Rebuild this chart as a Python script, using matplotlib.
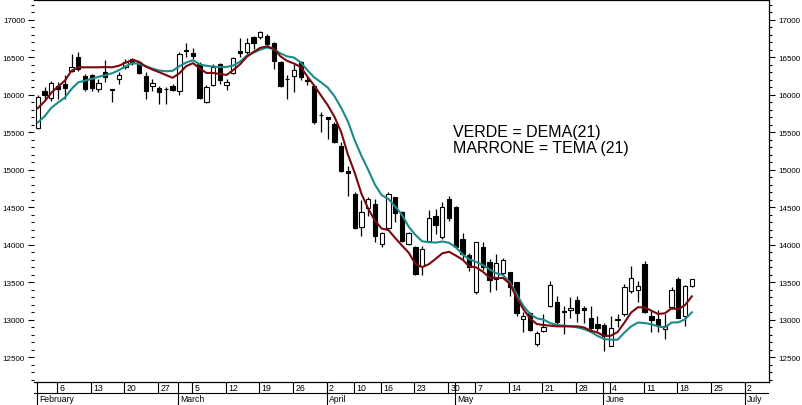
import matplotlib
matplotlib.use("Agg")
import matplotlib.pyplot as plt
import numpy as np

plt.rcParams['font.family'] = ['Liberation Sans', 'DejaVu Sans']

# daily candles, trading day index 0 = 1 Feb 2012
opens = [15555, 16045, 15960, 16110, 16145, 16310, 16500, 16245, 16265, 16075,
         16305, 16070, 16210, 16365, 16480, 16430, 16245, 16115, 16085, 16078,
         16110, 16045, 16580, 16555, 16410, 15900, 16130, 16410, 16130, 16290,
         16585, 16565, 16765, 16765, 16780, 16690, 16440, 16215, 16255, 16430,
         16195, 16112, 15735, 15700, 15610, 15310, 14985, 14675, 14230, 14485,
         14545, 14010, 14218, 14632, 14432, 14009, 13970, 13712, 14045, 14378,
         14098, 14609, 14507, 14076, 13865, 13365, 13973, 13773, 13542, 13622,
         13640, 13507, 13007, 13089, 12676, 12845, 13178, 13231, 13112, 13129,
         13262, 13156, 13018, 12942, 12929, 12645, 13000, 13076, 13387, 13400,
         13742, 13054, 13009, 12875, 13165, 13543, 13045, 13445]
highs = [16000, 16100, 16185, 16165, 16260, 16545, 16565, 16275, 16275, 16210,
         16460, 16075, 16300, 16475, 16495, 16440, 16300, 16210, 16110, 16100,
         16145, 16565, 16690, 16620, 16430, 16130, 16410, 16420, 16210, 16500,
         16750, 16750, 16780, 16855, 16810, 16700, 16455, 16265, 16410, 16445,
         16235, 16120, 15765, 15705, 15640, 15365, 15055, 14700, 14590, 14640,
         14610, 14170, 14700, 14640, 14445, 14165, 13985, 13985, 14462, 14476,
         14565, 14653, 14520, 14150, 13885, 14040, 14040, 13810, 13875, 13820,
         13640, 13507, 13098, 13098, 12854, 13076, 13520, 13320, 13178, 13298,
         13320, 13187, 13178, 13053, 12956, 13053, 13076, 13476, 13720, 13520,
         13787, 13120, 13134, 13076, 13431, 13565, 13463, 13542]
lows = [15545, 15945, 15920, 15945, 15945, 16300, 16320, 16055, 16050, 16030,
        16165, 15905, 16140, 16340, 16400, 16270, 15940, 16055, 15875, 15875,
        16055, 15990, 16500, 16470, 15945, 15890, 16110, 16145, 16065, 16275,
        16500, 16545, 16610, 16745, 16655, 16345, 16105, 15945, 16030, 16200,
        16130, 15610, 15505, 15410, 15355, 14975, 14655, 14210, 14120, 14380,
        14030, 13970, 14200, 14300, 14035, 13995, 13595, 13590, 14030, 14142,
        14080, 14311, 13950, 13810, 13650, 13345, 13660, 13365, 13400, 13595,
        13310, 13054, 12832, 12854, 12645, 12830, 13165, 12943, 12809, 13018,
        12965, 12956, 12831, 12854, 12587, 12645, 12898, 13053, 13356, 13231,
        13089, 12831, 12831, 12742, 13142, 13018, 12911, 13431]
closes = [15965, 16000, 16150, 16075, 16085, 16375, 16345, 16075, 16085, 16150,
          16235, 16060, 16260, 16440, 16425, 16290, 16045, 16150, 16035, 16072,
          16065, 16540, 16600, 16515, 15955, 16100, 16365, 16200, 16165, 16495,
          16555, 16690, 16690, 16830, 16675, 16455, 16110, 16205, 16330, 16235,
          16180, 15641, 15725, 15675, 15365, 14985, 14955, 14220, 14430, 14610,
          14120, 14156, 14676, 14420, 14054, 14156, 13609, 13942, 14356, 14267,
          14507, 14356, 13965, 13876, 13700, 14031, 13698, 13533, 13756, 13796,
          13431, 13089, 13045, 12867, 12822, 12898, 13462, 12973, 13102, 13151,
          13085, 13129, 12885, 12885, 12778, 12885, 13010, 13431, 13551, 13445,
          13098, 13000, 12911, 12920, 13400, 13022, 13445, 13542]

# DEMA(21) green, TEMA(21) brown
dema = [15630, 15710, 15825, 15895, 15960, 16076, 16165, 16187, 16210, 16238,
        16260, 16285, 16325, 16378, 16420, 16412, 16380, 16348, 16322, 16312,
        16318, 16380, 16428, 16460, 16405, 16385, 16375, 16368, 16370, 16390,
        16440, 16520, 16560, 16600, 16630, 16605, 16550, 16510, 16495, 16430,
        16325, 16230, 16165, 16095, 15980, 15824, 15643, 15392, 15185, 15000,
        14800, 14660, 14610, 14510, 14400, 14240, 14130, 14045, 14033, 14028,
        14042, 14025, 13965, 13870, 13805, 13770, 13730, 13670, 13620, 13595,
        13500, 13342, 13187, 13076, 13018, 13000, 12955, 12929, 12920, 12911,
        12897, 12875, 12838, 12785, 12741, 12733, 12733, 12828, 12910, 12962,
        12955, 12940, 12910, 12895, 12962, 12965, 13005, 13098]
tema = [15820, 15910, 16025, 16110, 16185, 16320, 16365, 16365, 16365, 16365,
        16368, 16365, 16385, 16425, 16465, 16440, 16375, 16335, 16300, 16262,
        16225, 16285, 16380, 16420, 16352, 16290, 16289, 16276, 16263, 16329,
        16405, 16505, 16570, 16625, 16643, 16615, 16510, 16450, 16415, 16370,
        16240, 16120, 15990, 15860, 15705, 15500, 15200, 14960, 14680, 14480,
        14320, 14215, 14195, 14090, 13990, 13895, 13745, 13700, 13740, 13810,
        13885, 13905, 13855, 13800, 13710, 13698, 13640, 13560, 13556, 13556,
        13480, 13298, 13142, 13018, 12942, 12929, 12920, 12911, 12911, 12911,
        12911, 12897, 12852, 12830, 12780, 12787, 12835, 12960, 13095, 13165,
        13165, 13120, 13076, 13085, 13150, 13140, 13195, 13311]

# date strip: first trading day of each week / month (trading day index)
week_idx = [3, 8, 13, 18, 23, 28, 33, 38, 43, 47, 51, 56, 61, 65, 70, 75, 80,
            85, 90, 95, 100, 105]
week_lbl = ["6", "13", "20", "27", "5", "12", "19", "26", "2", "10", "16", "23",
            "30", "7", "14", "21", "28", "4", "11", "18", "25", "2"]
month_idx = [0, 21, 43, 62, 84, 105]
month_lbl = ["February", "March", "April", "May", "June", "July"]

teal = "#1b8b87"
maroon = "#780a10"

fig = plt.figure(figsize=(8.02, 4.06), dpi=100)
W, H = 802.0, 406.0
left, right, bottom, top = 34 / W, 769 / W, 23 / H, 405.5 / H
ax = fig.add_axes([left, bottom, right - left, top - bottom])

idx = np.arange(len(opens))
o = np.array(opens)
c = np.array(closes)
up = c >= o

ax.vlines(idx, lows, highs, color="black", lw=0.9, zorder=2)
ax.bar(idx, np.maximum(np.abs(c - o), 4), bottom=np.minimum(o, c), width=0.64,
       color=np.where(up, "white", "black"), edgecolor="black", lw=0.8, zorder=3)

ax.plot(idx, dema, color=teal, lw=1.5, zorder=4)
ax.plot(idx, tema, color=maroon, lw=1.5, zorder=5)

ax.text(61.6, 15443, "VERDE = DEMA(21)", fontsize=11.5, color="black")
ax.text(61.6, 15229, "MARRONE = TEMA (21)", fontsize=11.5, color="black")

ax.set_xlim(-0.564, 108.45)
ax.set_ylim(12169, 17269)
ax.set_xticks([])
ax.set_yticks(np.arange(12500, 17001, 500))
ax.set_yticks(np.arange(12200, 17201, 100), minor=True)
ax.tick_params(axis="y", which="both", left=True, right=True,
               labelleft=True, labelright=True, direction="out",
               labelsize=5.8, pad=2, width=0.8)
ax.tick_params(axis="y", which="major", length=4.5)
ax.tick_params(axis="y", which="minor", length=2)
ax.spines["left"].set_visible(False)
for s in ["top", "right", "bottom"]:
    ax.spines[s].set_linewidth(0.9)

# date strip below the plot
ax2 = fig.add_axes([left, 0, right - left, bottom])
ax2.set_xlim(ax.get_xlim())
ax2.set_ylim(0, 1)
ax2.axis("off")
mid = 12 / 23.0
ax2.axhline(mid, color="black", lw=0.8)
for i, lab in zip(week_idx, week_lbl):
    ax2.plot([i - 0.15, i - 0.15], [mid, 1], color="black", lw=0.8)
    ax2.text(i + 0.2, (mid + 1) / 2, lab, fontsize=6.3, va="center", ha="left")
for i, lab in zip(month_idx, month_lbl):
    ax2.plot([i - 0.15, i - 0.15], [0, 1], color="black", lw=0.8)
    ax2.text(i + 0.2, mid / 2, lab, fontsize=6.2, va="center", ha="left")

fig.savefig("out.png", dpi=100)
